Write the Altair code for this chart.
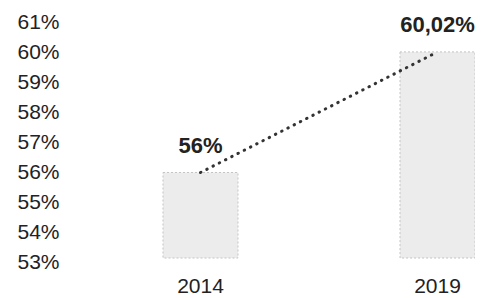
import altair as alt
import pandas as pd

years = ["2014", "2019"]
values = [56.0, 60.02]
value_labels = ["56%", "60,02%"]
base = [53.15, 53.15]
y_ticks = [53, 54, 55, 56, 57, 58, 59, 60, 61]

df = pd.DataFrame({"year": years, "value": values, "label": value_labels, "base": base})

FONT = "Liberation Sans"

x_enc = alt.X(
    "year:N",
    scale=alt.Scale(paddingInner=0.68354, paddingOuter=0.20042, align=1),
    axis=alt.Axis(
        title=None, domain=False, ticks=False, labelAngle=0,
        labelFontSize=21, labelFont=FONT, labelColor="#222222", labelPadding=13,
    ),
)
y_enc = alt.Y(
    "value:Q",
    scale=alt.Scale(domain=[53, 61], nice=False, zero=False),
    axis=alt.Axis(
        title=None, domain=False, ticks=False, grid=False, values=y_ticks,
        labelExpr="datum.value + '%'", labelFontSize=21, labelFont=FONT,
        labelColor="#222222", labelPadding=9, labelOverlap=False,
        labelBound=False, labelFlush=False,
    ),
)

base_chart = alt.Chart(df).encode(x=x_enc, y=y_enc)

bars = base_chart.mark_bar(
    color="#ececec", stroke="#c4c4c4", strokeDash=[2, 2], strokeWidth=1
).encode(y2="base:Q")

line = base_chart.mark_line(
    color="#333333", strokeWidth=3, strokeDash=[0.5, 6.5], strokeCap="round"
)

text = base_chart.mark_text(
    fontSize=22, fontWeight="bold", font=FONT, color="#222222",
    baseline="alphabetic", dy=-20,
).encode(text="label:N")

chart = alt.layer(bars, line, text).properties(
    width=407, height=240,
    autosize=alt.AutoSizeParams(type="none"),
    padding={"left": 60, "top": 14.5, "right": 0, "bottom": 35},
).configure_view(stroke=None).configure_axis(grid=False)

chart.save("out.html", embed_options={"renderer": "svg", "actions": False})
